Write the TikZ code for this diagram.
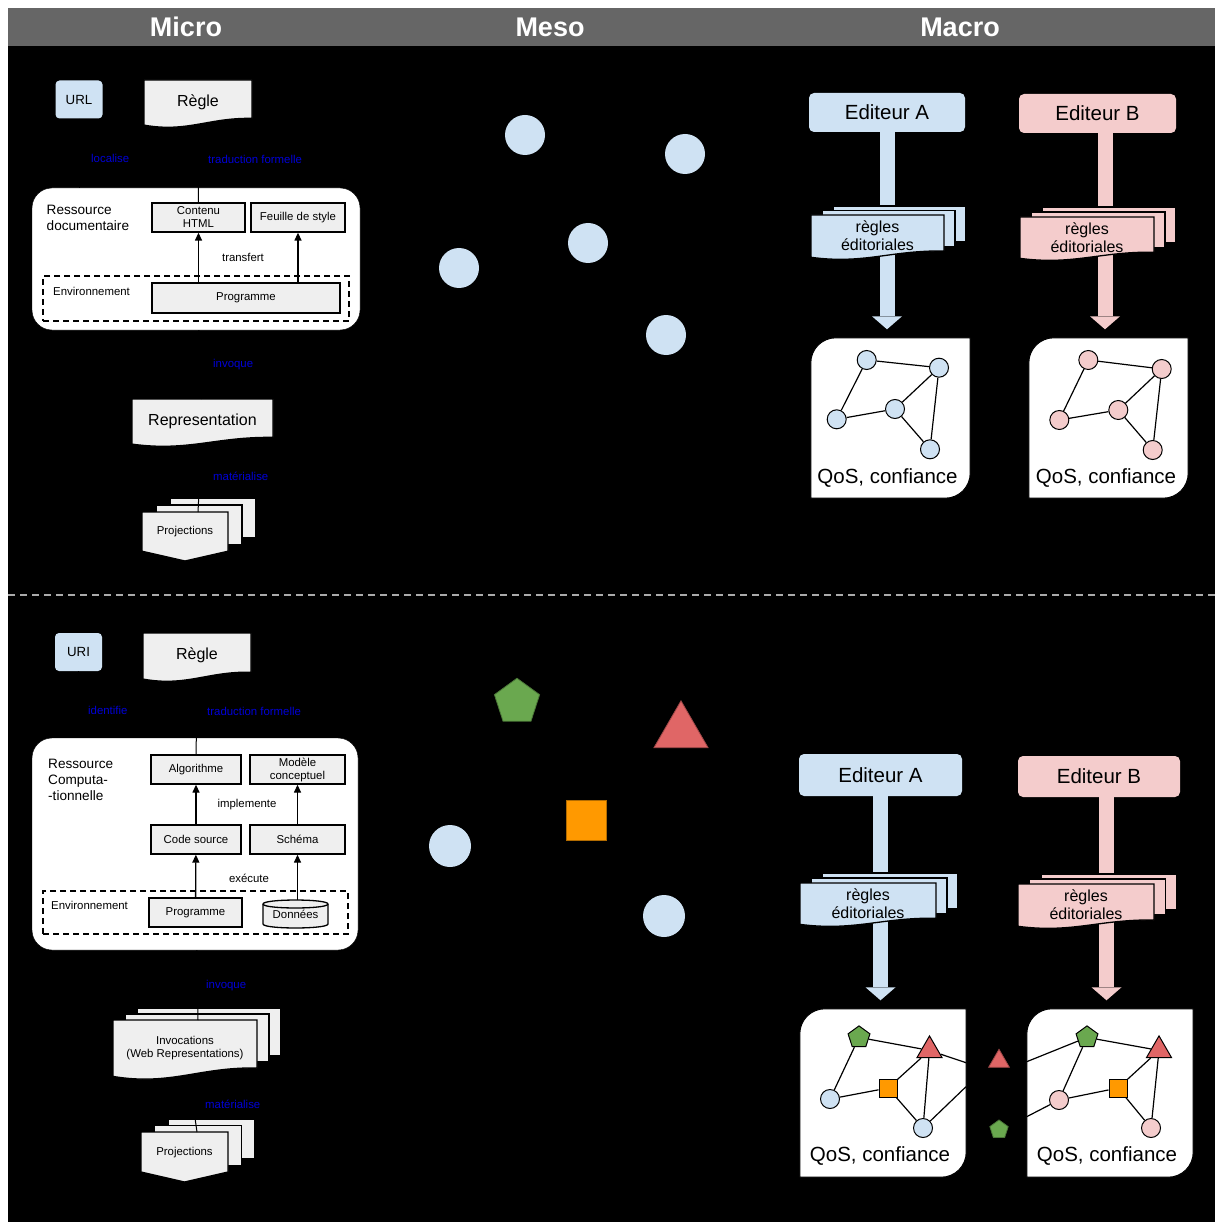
\documentclass[tikz,border=0pt]{standalone}
\usepackage{fontspec}
\setmainfont{Liberation Sans}
\usepackage{xcolor}
\usetikzlibrary{positioning,shapes,calc,arrows.meta}

\definecolor{headgrey}{HTML}{666666}
\definecolor{docgrey}{HTML}{EFEFEF}
\definecolor{lightblue}{HTML}{CFE2F3}
\definecolor{lightpink}{HTML}{F4CCCC}
\definecolor{shapegreen}{HTML}{6AA84F}
\definecolor{shapered}{HTML}{E06666}
\definecolor{shapeorange}{HTML}{FF9900}
\definecolor{linkblue}{RGB}{0,0,215}
\definecolor{sepgrey}{HTML}{AAAAAA}

% sheet with a wavy bottom: name, x, y, width, height, fill, node style, text
\newcommand{\docnode}[8]{%
  \filldraw[docline, fill=#6] (#2,#3) -- (#2+#4,#3) -- (#2+#4,#3+0.8*#5)
    .. controls (#2+0.6*#4,#3+0.78*#5) and (#2+0.4*#4,#3+1.1*#5) .. (#2,#3+0.94*#5) -- cycle;
  \node[doctext, #7, minimum width=#4, minimum height=0.92*#5, anchor=north] (#1) at (#2+0.5*#4,#3) {#8};
}
% sheet with a pointed bottom: name, x, y, width, height, fill, node style, text
\newcommand{\pagenode}[8]{%
  \filldraw[docline, fill=#6] (#2,#3) -- (#2+#4,#3) -- (#2+#4,#3+0.8*#5) -- (#2+0.5*#4,#3+#5) -- (#2,#3+0.8*#5) -- cycle;
  \node[doctext, #7, minimum width=#4, minimum height=0.8*#5, anchor=north] (#1) at (#2+0.5*#4,#3) {#8};
}
% two sheets behind a front sheet: x, y, width, height, dx, dy, fill
\newcommand{\backsheets}[7]{%
  \filldraw[docline, fill=#7] (#1+2*#5,#2-2*#6) rectangle ++(#3,0.8*#4);
  \filldraw[docline, fill=#7] (#1+#5,#2-#6) rectangle ++(#3,0.8*#4);
}
% white frame, two rounded corners
\newcommand{\qosframe}[1]{%
  \filldraw[fill=white, draw=black, line width=1pt] (#1.north) [sharp corners] -- (#1.north east) -- (#1.east)
    [rounded corners=25pt] -- (#1.south east) -- (#1.south) [sharp corners] -- (#1.south west) -- (#1.west)
    [rounded corners=25pt] -- (#1.north west) -- cycle;
}

\begin{document}
\begin{tikzpicture}[
  x=1pt, y=-1pt,
  every node/.style={font=\fontsize{11.4}{13}\selectfont},
  header/.style={text=white, font=\bfseries\fontsize{27}{30}\selectfont},
  linklabel/.style={text=linkblue, anchor=west, inner sep=0pt},
  link/.style={draw=black, line width=1pt},
  arrow/.style={-{Triangle[length=8pt,width=7pt]}, line width=1.3pt},
  idbox/.style={rectangle, rounded corners=4pt, fill=lightblue, minimum width=47, minimum height=38, font=\fontsize{13.3}{15}\selectfont},
  resbox/.style={rectangle, rounded corners=20pt, draw=black, fill=white},
  restitle/.style={anchor=west, align=left, inner sep=0pt, font=\fontsize{13.6}{16}\selectfont},
  box/.style={rectangle, draw=black, fill=docgrey, line width=1.3pt, align=center, inner sep=1pt, minimum height=29},
  envbox/.style={rectangle, draw=black, dash pattern=on 6pt off 4pt, line width=1.3pt},
  docline/.style={draw=black, line width=1.3pt},
  doctext/.style={align=center, inner sep=1pt},
  bigdoc/.style={font=\fontsize{16}{18}\selectfont},
  mesocircle/.style={circle, fill=lightblue, minimum size=40, inner sep=0pt},
  pentashape/.style={regular polygon, regular polygon sides=5, fill=shapegreen, draw=shapegreen!70!black, line width=0.8pt, inner sep=0pt},
  trishape/.style={regular polygon, regular polygon sides=3, fill=shapered, draw=shapered!70!black, line width=0.8pt, inner sep=0pt},
  squareshape/.style={rectangle, fill=shapeorange, draw=shapeorange!70!black, line width=0.8pt, inner sep=0pt},
  editor/.style={rectangle, rounded corners=5pt, minimum height=39, font=\fontsize{20.5}{24}\selectfont},
  fatarrow/.style={line width=15pt, -{Triangle[length=13pt,width=30pt,line width=0pt]}, shorten >=8.5pt},
  qosbox/.style={rectangle, inner sep=0pt},
  qostext/.style={anchor=base, font=\fontsize{20.5}{24}\selectfont},
  gnode/.style={circle, draw=black, line width=1pt, minimum size=19, inner sep=0pt},
  gedge/.style={line width=1.2pt}
]

% background and column headers
\fill[white] (0,0) rectangle (1215,1222);
\fill[black] (8,8) rectangle (1215,1222);
\fill[headgrey] (8,8) rectangle (1215,46);
\node[header] (micro) at (186,27) {Micro};
\node[header] (meso) at (550,27) {Meso};
\node[header] (macro) at (960,27) {Macro};
\draw[sepgrey, line width=1.3pt, dash pattern=on 7pt off 5pt] (8,595) -- (1215,595);

% Micro, document resource
\node[idbox] (url1) at (79,99.5) {URL};
\docnode{regle1}{144}{80}{108}{48}{docgrey}{bigdoc}{Règle}
\node[resbox, minimum width=328, minimum height=142] (res1) at (196,259) {};
\node[restitle] (res1title) at (46.5,218) {Ressource\\documentaire};
\node[box, minimum width=93] (contenu1) at (198.5,217.5) {Contenu\\HTML};
\node[box, minimum width=94] (feuille1) at (298,217.5) {Feuille de style};
\node[envbox, minimum width=306, minimum height=45] (env1) at (196,298.5) {};
\node[anchor=west, inner sep=0pt] (env1title) at (53,291) {Environnement};
\node[box, minimum width=188, minimum height=30] (prog1) at (246,298) {Programme};
\node (transfert1) at (243,257) {transfert};
\draw[arrow] (prog1.north -| contenu1) -- (contenu1);
\draw[arrow] (prog1.north -| feuille1) -- (feuille1);

\node[linklabel] (localise1) at (91,158) {localise};
\node[linklabel] (traduction1) at (208,159) {traduction formelle};
\draw[link] (url1) -- (url1 |- res1.north);
\draw[link] (regle1) -- (contenu1);

\node[linklabel] (invoque1) at (213,365) {invoque};
\docnode{repr1}{132}{399}{141}{48}{docgrey}{bigdoc}{Representation}
\draw[link] (res1) -- (repr1);

\node[linklabel] (materialise1) at (213,476) {matérialise};
\backsheets{142}{512}{86}{49}{14}{7}{docgrey}
\pagenode{proj1}{142}{512}{86}{49}{docgrey}{}{Projections}
\coordinate (proj1in) at (198,498);
\draw[link] (repr1) -- (proj1in |- proj1.north);

% Micro, computational resource
\node[idbox] (uri2) at (78.5,652) {URI};
\docnode{regle2}{143}{633}{108}{49}{docgrey}{bigdoc}{Règle}
\node[linklabel] (identifie2) at (88,710) {identifie};
\node[linklabel] (traduction2) at (207,711) {traduction formelle};
\node[resbox, minimum width=326, minimum height=212] (res2) at (195,844) {};
\node[restitle] (res2title) at (48,780) {Ressource\\Computa-\\-tionnelle};
\node[box, minimum width=90] (algo2) at (196,769.5) {Algorithme};
\node[box, minimum width=95] (model2) at (297.5,769.5) {Modèle\\conceptuel};
\node (implemente2) at (247,805) {implemente};
\node[box, minimum width=90] (code2) at (196,839.5) {Code source};
\node[box, minimum width=95] (schema2) at (297.5,839.5) {Schéma};
\node (execute2) at (249,878) {exécute};
\node[envbox, minimum width=305, minimum height=43] (env2) at (195.5,912.5) {};
\node[anchor=west, inner sep=0pt] (env2title) at (51,905) {Environnement};
\node[box, minimum width=93] (prog2) at (195.5,912.5) {Programme};
% data cylinder
\filldraw[docline, fill=docgrey] (263,904) -- (263,924) .. controls (263,929.3) and (328,929.3) .. (328,924)
  -- (328,904) .. controls (328,898.7) and (263,898.7) .. (263,904) -- cycle;
\draw[docline] (263,904) .. controls (263,909.3) and (328,909.3) .. (328,904);
\node[minimum width=65, minimum height=28] (data2) at (295.5,914) {Données};
\draw[arrow] (code2) -- (algo2);
\draw[arrow] (schema2) -- (model2);
\draw[arrow] (prog2) -- (code2);
\draw[arrow] (data2.north -| schema2) -- (schema2);
\draw[link] (uri2) -- (uri2 |- res2.north);
\draw[link] (regle2) -- (algo2);

\node[linklabel] (invoque2) at (206,986) {invoque};
\backsheets{113}{1020}{144}{60}{12}{6}{docgrey}
\docnode{inv2}{113}{1020}{144}{60}{docgrey}{}{Invocations\\(Web Representations)}
\coordinate (inv2in) at (198,1008);
\draw[link] (res2) -- (inv2in |- inv2.north);

\node[linklabel] (materialise2) at (205,1104) {matérialise};
\backsheets{141}{1132}{87}{50}{13.5}{6.5}{docgrey}
\pagenode{proj2}{141}{1132}{87}{50}{docgrey}{}{Projections}
\coordinate (proj2in) at (197,1119);
\draw[link] (inv2) -- (proj2in |- proj2.north);

% Meso, loose resources
\node[mesocircle] (cell1) at (525,135) {};
\node[mesocircle] (cell2) at (685,154) {};
\node[mesocircle] (cell3) at (588,243) {};
\node[mesocircle] (cell4) at (459,268) {};
\node[mesocircle] (cell5) at (666,335) {};

\node[pentashape, minimum size=47.5] (penta) at (517,702) {};
\node[trishape, minimum size=62.4] (tri) at (681,732) {};
\node[squareshape, minimum size=40] (square) at (586,820.5) {};
\node[mesocircle, minimum size=42] (cell6) at (450,846) {};
\node[mesocircle, minimum size=42] (cell7) at (664,916) {};

% Macro, top
\node[editor, fill=lightblue, minimum width=156] (edA1) at (887,112.5) {Editeur A};
\node[editor, fill=lightpink, minimum width=157] (edB1) at (1097.5,113.5) {Editeur B};
\node[qosbox, minimum width=159, minimum height=160] (qosA1) at (890.5,418) {};
\node[qosbox, minimum width=159, minimum height=160] (qosB1) at (1108.5,418) {};
\draw[fatarrow, lightblue] (edA1) -- (edA1.south |- qosA1.north);
\coordinate (arrB1) at (1105,133);
\draw[fatarrow, lightpink] (edB1.south -| arrB1) -- (arrB1 |- qosB1.north);

\backsheets{811}{215}{133}{45}{11}{4.5}{lightblue}
\docnode{regA1}{811}{215}{133}{45}{lightblue}{bigdoc}{règles\\éditoriales}
\backsheets{1020}{217}{134}{44}{11}{5}{lightpink}
\docnode{regB1}{1020}{217}{134}{44}{lightpink}{bigdoc}{règles\\éditoriales}

\qosframe{qosA1}
\qosframe{qosB1}

% graph of editor A
\node[gnode, fill=lightblue] (gA1) at (866.7,360) {};
\node[gnode, fill=lightblue] (gA2) at (939,367.7) {};
\node[gnode, fill=lightblue] (gA3) at (895,409) {};
\node[gnode, fill=lightblue] (gA4) at (836.7,419.3) {};
\node[gnode, fill=lightblue] (gA5) at (930,449.3) {};
\draw[gedge] (gA1) -- (gA2);
\draw[gedge] (gA1) -- (gA4);
\draw[gedge] (gA4) -- (gA3);
\draw[gedge] (gA3) -- (gA2);
\draw[gedge] (gA2) -- (gA5);
\draw[gedge] (gA3) -- (gA5);
\node[qostext] (qosA1text) at (887.5,483.5) {QoS, confiance};

% graph of editor B
\node[gnode, fill=lightpink] (gB1) at (1088.3,360) {};
\node[gnode, fill=lightpink] (gB2) at (1161.7,369) {};
\node[gnode, fill=lightpink] (gB3) at (1118.3,410) {};
\node[gnode, fill=lightpink] (gB4) at (1059.3,420) {};
\node[gnode, fill=lightpink] (gB5) at (1152.7,450) {};
\draw[gedge] (gB1) -- (gB2);
\draw[gedge] (gB1) -- (gB4);
\draw[gedge] (gB4) -- (gB3);
\draw[gedge] (gB3) -- (gB2);
\draw[gedge] (gB2) -- (gB5);
\draw[gedge] (gB3) -- (gB5);
\node[qostext] (qosB1text) at (1106,483.5) {QoS, confiance};

% Macro, bottom
\node[editor, fill=lightblue, minimum width=163, minimum height=42] (edA2) at (880.5,775) {Editeur A};
\node[editor, fill=lightpink, minimum width=162, minimum height=41] (edB2) at (1099,776.5) {Editeur B};
\node[qosbox, minimum width=166, minimum height=168] (qosA2) at (883,1093) {};
\node[qosbox, minimum width=166, minimum height=168] (qosB2) at (1110,1093) {};
\draw[fatarrow, lightblue] (edA2) -- (edA2.south |- qosA2.north);
\coordinate (arrB2) at (1106.5,797);
\draw[fatarrow, lightpink] (edB2.south -| arrB2) -- (arrB2 |- qosB2.north);

\backsheets{800}{883}{136}{44}{11}{5}{lightblue}
\docnode{regA2}{800}{883}{136}{44}{lightblue}{bigdoc}{règles\\éditoriales}
\backsheets{1018}{884}{136}{45}{11.5}{5}{lightpink}
\docnode{regB2}{1018}{884}{136}{45}{lightpink}{bigdoc}{règles\\éditoriales}

\qosframe{qosA2}
\qosframe{qosB2}

% graph of editor A, mixed resources
\node[pentashape, draw=black, line width=1pt, minimum size=23] (pA2) at (859,1037.4) {};
\node[trishape, draw=black, line width=1pt, minimum size=29] (tA2) at (929.5,1050.4) {};
\node[squareshape, draw=black, line width=1pt, minimum size=18] (sA2) at (888,1088) {};
\node[gnode, fill=lightblue] (cA2a) at (830,1099) {};
\node[gnode, fill=lightblue] (cA2b) at (923,1128) {};
\coordinate (exA2a) at (966,1062.7);
\coordinate (exA2b) at (966,1086.7);
\draw[gedge] (pA2) -- (tA2);
\draw[gedge] (pA2) -- (cA2a);
\draw[gedge] (cA2a) -- (sA2);
\draw[gedge] (sA2) -- (tA2);
\draw[gedge] (sA2) -- (cA2b);
\draw[gedge] (tA2) -- (cA2b);
\draw[gedge] (tA2) -- (exA2a);
\draw[gedge] (cA2b) -- (exA2b);
\node[qostext] (qosA2text) at (880,1161.5) {QoS, confiance};

% graph of editor B, mixed resources
\node[pentashape, draw=black, line width=1pt, minimum size=23] (pB2) at (1087,1037.4) {};
\node[trishape, draw=black, line width=1pt, minimum size=29] (tB2) at (1159,1050.4) {};
\node[squareshape, draw=black, line width=1pt, minimum size=18] (sB2) at (1118,1088) {};
\node[gnode, fill=lightpink] (cB2a) at (1059,1100) {};
\node[gnode, fill=lightpink] (cB2b) at (1151,1128) {};
\coordinate (enB2a) at (1026.7,1061.7);
\coordinate (enB2b) at (1026.7,1116.7);
\draw[gedge] (pB2) -- (tB2);
\draw[gedge] (pB2) -- (cB2a);
\draw[gedge] (cB2a) -- (sB2);
\draw[gedge] (sB2) -- (tB2);
\draw[gedge] (sB2) -- (cB2b);
\draw[gedge] (tB2) -- (cB2b);
\draw[gedge] (enB2a) -- (pB2);
\draw[gedge] (enB2b) -- (cB2a);
\node[qostext] (qosB2text) at (1107,1161.5) {QoS, confiance};

% shared resources between the two editors
\node[trishape, minimum size=24] (trimid) at (999,1061.3) {};
\node[pentashape, minimum size=19.3] (pentamid) at (999,1129.6) {};

\end{tikzpicture}
\end{document}
